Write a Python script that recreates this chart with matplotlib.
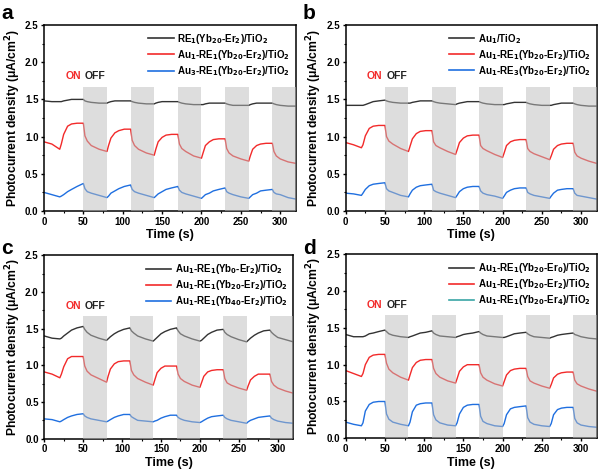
import matplotlib
matplotlib.use("Agg")
import matplotlib.pyplot as plt
from matplotlib.lines import Line2D
from matplotlib.ticker import MultipleLocator

plt.rcParams['font.family'] = ['Liberation Sans', 'DejaVu Sans']
plt.rcParams['font.weight'] = 'bold'
plt.rcParams['mathtext.default'] = 'bf'
plt.rcParams['axes.linewidth'] = 1.1

# ---------------- data ----------------
time_s = [0, 10,
          20, 22, 25, 30, 35, 42, 50, 52, 55, 60, 70,
          80, 82, 85, 90, 95, 102, 110, 112, 115, 120, 130,
          140, 142, 145, 150, 155, 162, 170, 172, 175, 180, 190,
          200, 202, 205, 210, 215, 222, 230, 232, 235, 240, 250,
          260, 262, 265, 270, 275, 282, 290, 292, 295, 300, 310,
          320]

off_periods = [(50, 80), (110, 140), (170, 200), (230, 260), (290, 320)]
shade_top = 1.67

a_black = [1.48, 1.47,
           1.47, 1.47, 1.48, 1.49, 1.50, 1.50, 1.50, 1.48, 1.47, 1.46, 1.45,
           1.45, 1.46, 1.47, 1.48, 1.48, 1.48, 1.48, 1.47, 1.46, 1.45, 1.44,
           1.44, 1.45, 1.46, 1.47, 1.47, 1.47, 1.47, 1.46, 1.45, 1.44, 1.43,
           1.43, 1.43, 1.44, 1.45, 1.45, 1.45, 1.45, 1.44, 1.43, 1.42, 1.42,
           1.42, 1.43, 1.44, 1.45, 1.45, 1.45, 1.45, 1.44, 1.43, 1.42, 1.41,
           1.41]
a_red = [0.93, 0.90,
         0.83, 0.90, 1.03, 1.14, 1.17, 1.18, 1.18, 1.01, 0.94, 0.88, 0.83,
         0.80, 0.88, 0.98, 1.05, 1.08, 1.10, 1.10, 0.95, 0.88, 0.83, 0.78,
         0.75, 0.83, 0.93, 0.99, 1.02, 1.03, 1.03, 0.90, 0.84, 0.80, 0.74,
         0.71, 0.78, 0.88, 0.93, 0.96, 0.97, 0.97, 0.84, 0.78, 0.74, 0.70,
         0.67, 0.74, 0.83, 0.88, 0.90, 0.91, 0.91, 0.80, 0.74, 0.70, 0.66,
         0.64]
a_blue = [0.25, 0.22,
          0.19, 0.20, 0.22, 0.26, 0.29, 0.33, 0.37, 0.30, 0.26, 0.24, 0.21,
          0.18, 0.20, 0.24, 0.27, 0.30, 0.33, 0.35, 0.29, 0.26, 0.24, 0.21,
          0.18, 0.20, 0.23, 0.26, 0.29, 0.31, 0.33, 0.28, 0.25, 0.23, 0.20,
          0.17, 0.19, 0.22, 0.24, 0.27, 0.29, 0.31, 0.26, 0.24, 0.22, 0.19,
          0.17, 0.19, 0.22, 0.24, 0.27, 0.28, 0.29, 0.25, 0.23, 0.22, 0.18,
          0.16]

b_black = [1.42, 1.42,
           1.42, 1.42, 1.43, 1.45, 1.47, 1.48, 1.49, 1.48, 1.47, 1.46, 1.45,
           1.45, 1.45, 1.46, 1.47, 1.48, 1.48, 1.48, 1.47, 1.46, 1.45, 1.44,
           1.43, 1.44, 1.45, 1.46, 1.47, 1.47, 1.47, 1.46, 1.45, 1.44, 1.43,
           1.43, 1.43, 1.44, 1.45, 1.46, 1.46, 1.46, 1.45, 1.44, 1.43, 1.42,
           1.42, 1.42, 1.43, 1.44, 1.45, 1.45, 1.45, 1.44, 1.43, 1.42, 1.41,
           1.41]
b_red = [0.92, 0.89,
         0.85, 0.89, 1.01, 1.11, 1.14, 1.15, 1.15, 1.00, 0.94, 0.90, 0.84,
         0.80, 0.87, 0.97, 1.04, 1.07, 1.08, 1.08, 0.93, 0.88, 0.85, 0.80,
         0.76, 0.82, 0.92, 0.98, 1.01, 1.02, 1.02, 0.88, 0.84, 0.81, 0.76,
         0.72, 0.78, 0.88, 0.93, 0.95, 0.96, 0.96, 0.84, 0.80, 0.77, 0.73,
         0.69, 0.74, 0.83, 0.88, 0.90, 0.91, 0.91, 0.79, 0.74, 0.71, 0.67,
         0.64]
b_blue = [0.24, 0.23,
          0.21, 0.24, 0.29, 0.34, 0.36, 0.37, 0.38, 0.30, 0.27, 0.25, 0.21,
          0.19, 0.23, 0.28, 0.32, 0.34, 0.35, 0.36, 0.28, 0.26, 0.24, 0.21,
          0.18, 0.21, 0.26, 0.30, 0.32, 0.33, 0.33, 0.27, 0.24, 0.22, 0.20,
          0.17, 0.20, 0.25, 0.28, 0.30, 0.31, 0.31, 0.25, 0.23, 0.21, 0.19,
          0.17, 0.20, 0.24, 0.28, 0.29, 0.30, 0.30, 0.24, 0.21, 0.20, 0.18,
          0.16]

c_black = [1.40, 1.37,
           1.36, 1.37, 1.40, 1.44, 1.48, 1.51, 1.53, 1.49, 1.45, 1.41, 1.37,
           1.34, 1.36, 1.39, 1.43, 1.46, 1.49, 1.51, 1.47, 1.44, 1.40, 1.36,
           1.33, 1.35, 1.38, 1.43, 1.46, 1.49, 1.51, 1.47, 1.43, 1.40, 1.36,
           1.33, 1.34, 1.37, 1.42, 1.45, 1.48, 1.49, 1.45, 1.42, 1.39, 1.35,
           1.32, 1.34, 1.37, 1.41, 1.44, 1.47, 1.48, 1.45, 1.42, 1.38, 1.35,
           1.32]
c_red = [0.91, 0.88,
         0.83, 0.88, 0.98, 1.09, 1.12, 1.12, 1.12, 0.99, 0.92, 0.87, 0.82,
         0.77, 0.85, 0.95, 1.02, 1.05, 1.06, 1.06, 0.93, 0.87, 0.82, 0.77,
         0.73, 0.80, 0.90, 0.96, 0.99, 0.99, 0.99, 0.88, 0.82, 0.78, 0.73,
         0.70, 0.76, 0.85, 0.91, 0.93, 0.94, 0.94, 0.82, 0.76, 0.73, 0.69,
         0.66, 0.72, 0.80, 0.85, 0.88, 0.88, 0.88, 0.78, 0.73, 0.69, 0.65,
         0.62]
c_blue = [0.27, 0.26,
          0.23, 0.24, 0.26, 0.29, 0.31, 0.33, 0.34, 0.31, 0.29, 0.27, 0.25,
          0.23, 0.24, 0.26, 0.29, 0.31, 0.33, 0.33, 0.30, 0.28, 0.25, 0.24,
          0.23, 0.24, 0.25, 0.28, 0.30, 0.32, 0.32, 0.29, 0.27, 0.25, 0.23,
          0.22, 0.23, 0.25, 0.28, 0.30, 0.31, 0.32, 0.29, 0.27, 0.25, 0.23,
          0.21, 0.23, 0.25, 0.27, 0.29, 0.30, 0.31, 0.28, 0.26, 0.24, 0.22,
          0.21]

d_black = [1.41, 1.38,
           1.38, 1.38, 1.39, 1.42, 1.43, 1.45, 1.47, 1.45, 1.42, 1.40, 1.38,
           1.37, 1.38, 1.39, 1.41, 1.43, 1.44, 1.46, 1.43, 1.41, 1.39, 1.38,
           1.37, 1.38, 1.39, 1.41, 1.42, 1.43, 1.45, 1.43, 1.41, 1.39, 1.38,
           1.37, 1.37, 1.38, 1.40, 1.42, 1.43, 1.44, 1.42, 1.40, 1.38, 1.37,
           1.36, 1.37, 1.38, 1.40, 1.41, 1.42, 1.43, 1.41, 1.40, 1.38, 1.36,
           1.35]
d_red = [0.92, 0.88,
         0.84, 0.88, 1.00, 1.10, 1.13, 1.14, 1.14, 1.02, 0.94, 0.89, 0.83,
         0.79, 0.86, 0.96, 1.03, 1.06, 1.07, 1.07, 0.95, 0.88, 0.83, 0.78,
         0.75, 0.81, 0.91, 0.97, 1.00, 1.00, 1.00, 0.89, 0.83, 0.79, 0.74,
         0.71, 0.77, 0.86, 0.92, 0.94, 0.95, 0.95, 0.84, 0.78, 0.75, 0.71,
         0.68, 0.73, 0.82, 0.87, 0.89, 0.90, 0.90, 0.79, 0.74, 0.71, 0.67,
         0.64]
d_blue = [0.22, 0.19,
          0.17, 0.21, 0.37, 0.46, 0.49, 0.50, 0.50, 0.33, 0.26, 0.22, 0.19,
          0.17, 0.22, 0.36, 0.45, 0.47, 0.48, 0.48, 0.32, 0.25, 0.21, 0.18,
          0.17, 0.21, 0.33, 0.42, 0.45, 0.46, 0.46, 0.30, 0.23, 0.20, 0.17,
          0.16, 0.20, 0.32, 0.40, 0.42, 0.43, 0.44, 0.28, 0.22, 0.19, 0.17,
          0.16, 0.20, 0.32, 0.39, 0.41, 0.42, 0.42, 0.27, 0.21, 0.18, 0.16,
          0.15]

labels_a = [r'RE$_1$(Yb$_{20}$-Er$_2$)/TiO$_2$',
            r'Au$_1$-RE$_1$(Yb$_{20}$-Er$_2$)/TiO$_2$',
            r'Au$_3$-RE$_1$(Yb$_{20}$-Er$_2$)/TiO$_2$']
labels_b = [r'Au$_1$/TiO$_2$',
            r'Au$_1$-RE$_1$(Yb$_{20}$-Er$_2$)/TiO$_2$',
            r'Au$_1$-RE$_3$(Yb$_{20}$-Er$_2$)/TiO$_2$']
labels_c = [r'Au$_1$-RE$_1$(Yb$_0$-Er$_2$)/TiO$_2$',
            r'Au$_1$-RE$_1$(Yb$_{20}$-Er$_2$)/TiO$_2$',
            r'Au$_1$-RE$_1$(Yb$_{40}$-Er$_2$)/TiO$_2$']
labels_d = [r'Au$_1$-RE$_1$(Yb$_{20}$-Er$_0$)/TiO$_2$',
            r'Au$_1$-RE$_1$(Yb$_{20}$-Er$_2$)/TiO$_2$',
            r'Au$_1$-RE$_1$(Yb$_{20}$-Er$_4$)/TiO$_2$']

panels = [
    ('a', [0.0733, 0.5567, 0.420, 0.3908], [a_black, a_red, a_blue], labels_a, (0.002, 0.992)),
    ('b', [0.5762, 0.5567, 0.4183, 0.3908], [b_black, b_red, b_blue], labels_b, (0.505, 0.992)),
    ('c', [0.0738, 0.0784, 0.415, 0.3853], [c_black, c_red, c_blue], labels_c, (0.002, 0.497)),
    ('d', [0.5762, 0.0792, 0.4183, 0.3866], [d_black, d_red, d_blue], labels_d, (0.505, 0.497)),
]
colors = ['#333333', '#f22a2a', '#1f6fe0']
legend_colors = {'d': ['#333333', '#f22a2a', '#3aa6a6']}

fig = plt.figure(figsize=(6.0, 4.76), dpi=100)

for letter, rect, series, labels, lpos in panels:
    ax = fig.add_axes(rect)
    for ys, col in zip(series, colors):
        ax.plot(time_s, ys, color=col, lw=1.0, zorder=2)
    for x0, x1 in off_periods:
        ax.axvspan(x0, x1, ymin=0, ymax=shade_top / 2.5, color='#bdbdbd',
                   alpha=0.5, lw=0, zorder=3)
    ax.set_xlim(0, 320)
    ax.set_ylim(0, 2.5)
    ax.xaxis.set_major_locator(MultipleLocator(50))
    ax.xaxis.set_minor_locator(MultipleLocator(25))
    ax.yaxis.set_major_locator(MultipleLocator(0.5))
    ax.yaxis.set_minor_locator(MultipleLocator(0.25))
    ax.tick_params(which='major', direction='out', length=2.5, width=1,
                   labelsize=7, pad=1.5)
    ax.tick_params(which='minor', direction='out', length=1.5, width=0.8)
    for lab in ax.get_xticklabels() + ax.get_yticklabels():
        lab.set_fontweight('bold')
    ax.set_xlabel('Time (s)', fontsize=9, fontweight='bold', labelpad=2)
    ax.set_ylabel('Photocurrent density (μA/cm$^2$)', fontsize=8.7,
                  fontweight='bold', labelpad=1.5)
    ax.text(37, 1.81, 'ON', color='#f22a2a', fontsize=7.5, fontweight='bold',
            ha='center', va='center')
    ax.text(65, 1.81, 'OFF', color='#222222', fontsize=7.5, fontweight='bold',
            ha='center', va='center')
    lc = legend_colors.get(letter, colors)
    handles = [Line2D([0], [0], color=c, lw=1.2) for c in lc]
    ax.legend(handles, labels, loc='upper right', frameon=False,
              prop={'size': 7, 'weight': 'bold'}, handlelength=2.6,
              handletextpad=0.4, labelspacing=0.22, borderaxespad=0.2,
              bbox_to_anchor=(1.0, 0.995))
    fig.text(lpos[0], lpos[1], letter, fontsize=15, fontweight='bold',
             ha='left', va='top')

fig.savefig('out.png', dpi=100)
